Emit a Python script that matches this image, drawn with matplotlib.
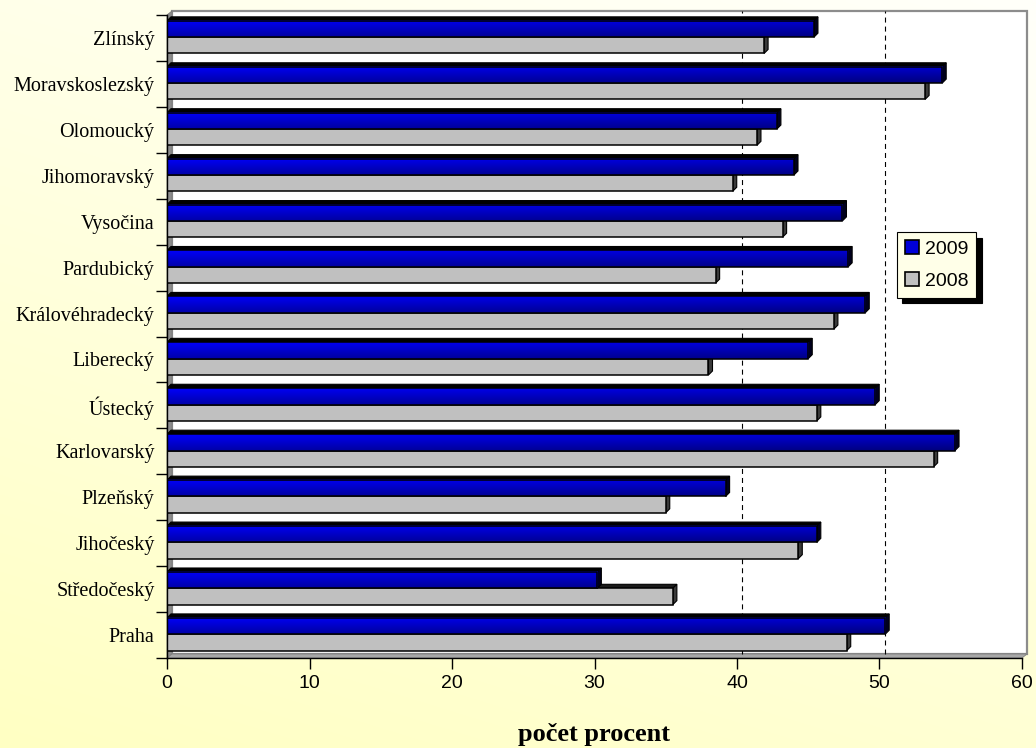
import numpy as np
import matplotlib
matplotlib.use('Agg')
import matplotlib.pyplot as plt
from matplotlib.patches import Polygon, Rectangle, Patch

# ---------------- data ----------------
regions = ['Zlínský', 'Moravskoslezský', 'Olomoucký', 'Jihomoravský', 'Vysočina',
           'Pardubický', 'Královéhradecký', 'Liberecký', 'Ústecký', 'Karlovarský',
           'Plzeňský', 'Jihočeský', 'Středočeský', 'Praha']
v2009 = [45.4, 54.4, 42.8, 44.0, 47.4, 47.8, 49.0, 45.0, 49.7, 55.3, 39.2, 45.6, 30.2, 50.4]
v2008 = [41.9, 53.2, 41.4, 39.7, 43.2, 38.5, 46.8, 38.0, 45.6, 53.8, 35.0, 44.3, 35.5, 47.7]
series_labels = ['2009', '2008']
x_ticks = [0, 10, 20, 30, 40, 50, 60]
x_label = 'počet procent'
grid_values = [40, 50]

plt.rcParams['lines.scale_dashes'] = False

W_PX, H_PX = 1036, 748
fig = plt.figure(figsize=(W_PX / 100, H_PX / 100), dpi=100)

# ---------------- background gradient ----------------
bg = fig.add_axes([0, 0, 1, 1], zorder=-10)
xx, yy = np.meshgrid(np.linspace(0, 1, 200), np.linspace(1, 0, 200))
s = np.clip(0.7 * (1 - yy) + 0.3 * (1 - xx), 0, 1)
img = np.dstack([np.full_like(s, 1.0), np.full_like(s, 1.0), (250 - 55 * s) / 255])
bg.imshow(img, extent=[0, 1, 0, 1], aspect='auto', interpolation='bilinear')
bg.axis('off')

# ---------------- main axes ----------------
L, R, T, B = 167, 1022, 15, 658
ax = fig.add_axes([L / W_PX, 1 - B / H_PX, (R - L) / W_PX, (B - T) / H_PX])
ax.set_facecolor('white')
n = len(regions)
XMAX = 60
ax.set_xlim(0, XMAX)
ax.set_ylim(n - 0.5, -0.5)

ax_w, ax_h = R - L, B - T
def dxd(px):
    return px * XMAX / ax_w
def dyd(px):
    return px * n / ax_h

# 3D walls
wx, wy = dxd(5), dyd(4)
back = Rectangle((wx, -0.5 - wy), XMAX, n, fc='white', ec='#8c8c8c', lw=1.6,
                 zorder=0.5, clip_on=False)
ax.add_patch(back)
left_wall = Polygon([(0, -0.5), (0, n - 0.5), (wx, n - 0.5 - wy), (wx, -0.5 - wy)],
                    closed=True, fc='#8c8c8c', ec='#7a7a7a', lw=0.6, zorder=0.6, clip_on=False)
ax.add_patch(left_wall)
floor = Polygon([(0, n - 0.5), (XMAX, n - 0.5), (XMAX + wx, n - 0.5 - wy), (wx, n - 0.5 - wy)],
                closed=True, fc='#a8a8a8', ec='#808080', lw=0.6, zorder=0.6, clip_on=False)
ax.add_patch(floor)

# gridlines on back wall
for g in grid_values:
    ax.plot([g + wx, g + wx], [n - 0.5 - wy, -0.5 - wy], color='black', lw=0.8,
            dashes=(3.6, 2.9), zorder=1, clip_on=False)

# ---------------- bars ----------------
h = 0.355
y = np.arange(n)
c_blue = y - 0.195
c_grey = y + 0.16
bdx, bdy = dxd(4), dyd(4)

def faces(v, c, top_col, side_col, z):
    yt = c - h / 2
    yb = c + h / 2
    top = Polygon([(0, yt), (v, yt), (v + bdx, yt - bdy), (bdx, yt - bdy)], closed=True,
                  fc=top_col, ec='black', lw=0.8, zorder=z)
    side = Polygon([(v, yt), (v + bdx, yt - bdy), (v + bdx, yb - bdy), (v, yb)], closed=True,
                   fc=side_col, ec='black', lw=0.8, zorder=z)
    ax.add_patch(top)
    ax.add_patch(side)

for i in range(n):
    faces(v2008[i], c_grey[i], '#1a1a1a', '#3a3a3a', 2)
ax.barh(c_grey, v2008, height=h, color='#C0C0C0', edgecolor='black', lw=1.1, zorder=2.5,
        label=series_labels[1])

for i in range(n):
    faces(v2009[i], c_blue[i], '#000000', '#00001e', 3)
    v = v2009[i]
    ncol, nrow = 80, 24
    fx = (np.linspace(0, v, ncol) / XMAX)[None, :]
    fy = np.linspace(0, 1, nrow)[:, None]
    bch = (250 - 80 * fy - 50 * fx) / 255
    grad = np.dstack([np.zeros_like(bch), np.zeros_like(bch), bch])
    ax.imshow(grad, extent=[0, v, c_blue[i] + h / 2, c_blue[i] - h / 2], origin='upper',
              aspect='auto', interpolation='bilinear', zorder=3.2)
ax.barh(c_blue, v2009, height=h, facecolor='none', edgecolor='black', lw=1.1, zorder=3.5,
        label=series_labels[0])

ax.set_xlim(0, XMAX)
ax.set_ylim(n - 0.5, -0.5)
ax.set_aspect('auto')

# ---------------- axes styling ----------------
for sp in ['top', 'right']:
    ax.spines[sp].set_visible(False)
for sp in ['left', 'bottom']:
    ax.spines[sp].set_color('black')
    ax.spines[sp].set_linewidth(1.0)
    ax.spines[sp].set_zorder(5)

ax.set_xticks(x_ticks)
ax.set_xticklabels([str(t) for t in x_ticks], fontfamily='Liberation Sans', fontsize=14)
ax.tick_params(axis='x', length=8, width=1, direction='out', pad=4.5, colors='black')

ax.set_yticks(np.arange(-0.5, n, 1))
ax.set_yticklabels([])
ax.set_yticks(y, minor=True)
ax.set_yticklabels(regions, minor=True, fontfamily='Liberation Serif', fontsize=14.5)
ax.tick_params(axis='y', which='major', length=8, width=1, direction='out')
ax.tick_params(axis='y', which='minor', length=0, pad=9)

ax.set_xlabel(x_label, fontfamily='Liberation Serif', fontsize=19, fontweight='bold')
ax.xaxis.set_label_coords(0.5, (H_PX - 735 - (H_PX - B)) / ax_h)
ax.xaxis.label.set_va('center')

# ---------------- legend ----------------
handles = [Patch(facecolor='#0000d8', edgecolor='black', lw=1.2, label=series_labels[0]),
           Patch(facecolor='#C0C0C0', edgecolor='black', lw=1.2, label=series_labels[1])]
leg_kw = dict(handles=handles, loc='center', bbox_to_anchor=(936.5 / W_PX, 1 - 265 / H_PX),
              prop={'family': 'Liberation Sans', 'size': 14}, handlelength=0.72,
              handleheight=0.72, handletextpad=0.3, borderpad=0.42, labelspacing=0.72,
              fancybox=False, frameon=True)
try:
    leg = fig.legend(shadow={'color': 'black', 'alpha': 1, 'ox': 4, 'oy': -4}, **leg_kw)
except Exception:
    leg = fig.legend(shadow=True, **leg_kw)
leg.get_frame().set_facecolor('#FFFFE8')
leg.get_frame().set_edgecolor('black')
leg.get_frame().set_linewidth(0.8)
leg.get_frame().set_alpha(1)

fig.savefig('out.png', dpi=100)
